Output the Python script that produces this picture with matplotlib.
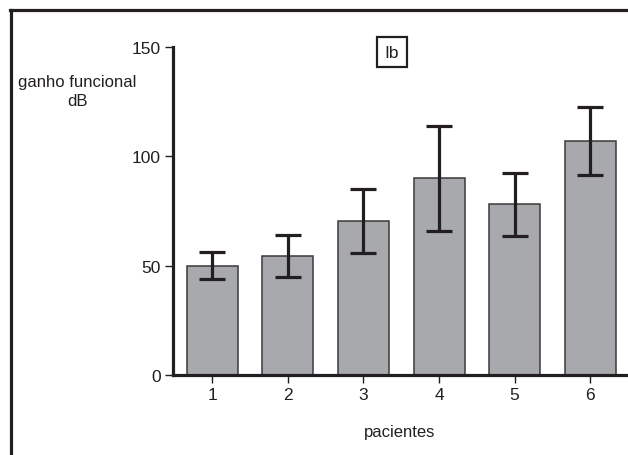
import numpy as np
import matplotlib
matplotlib.use("Agg")
import matplotlib.pyplot as plt
from matplotlib.lines import Line2D

pacientes = [1, 2, 3, 4, 5, 6]
ganho = [50, 54.5, 70.5, 90, 78, 107]
erro = [6.2, 9.5, 14.5, 24, 14.3, 15.5]
yticks = [0, 50, 100, 150]

plt.rcParams['font.family'] = ['Liberation Sans', 'DejaVu Sans']

W, H = 628, 456
fig = plt.figure(figsize=(W / 100, H / 100), dpi=100)
ax = fig.add_axes([173 / W, 1 - 376 / H, 1 - 173 / W, (376 - 48) / H])

ax.bar(pacientes, ganho, width=0.675, color='#a7a9ac', edgecolor='#3a3a3a', linewidth=1.1, zorder=2)
ax.errorbar(pacientes, ganho, yerr=erro, fmt='none', ecolor='#231f20', elinewidth=2.3,
            capsize=9.2, capthick=2.3, zorder=3)

ax.set_xlim(0.48, 6.5)
ax.set_ylim(0, 150)
ax.set_xticks(pacientes)
ax.set_yticks(yticks)
ax.tick_params(axis='both', direction='out', length=6, width=1, labelsize=12.5, colors='#231f20', pad=3)
for s in ['top', 'right']:
    ax.spines[s].set_visible(False)
for s in ['left', 'bottom']:
    ax.spines[s].set_linewidth(2.3)
    ax.spines[s].set_color('#231f20')

fig.text(77 / W, 1 - 82 / H, 'ganho funcional', ha='center', va='center', fontsize=12, color='#231f20')
fig.text(77 / W, 1 - 101 / H, 'dB', ha='center', va='center', fontsize=12, color='#231f20')
fig.text(400 / W, 1 - 433 / H, 'pacientes', ha='center', va='center', fontsize=12, color='#231f20')
fig.text(392 / W, 1 - 53 / H, 'Ib', ha='center', va='center', fontsize=12.5, color='#231f20',
         bbox=dict(boxstyle='square,pad=0.45', facecolor='white', edgecolor='#231f20', linewidth=1.6))

# outer frame (left and top visible)
fig.add_artist(Line2D([10.5 / W, 10.5 / W], [0, 1 - 10.5 / H], color='#231f20', linewidth=2.3))
fig.add_artist(Line2D([9.5 / W, 1], [1 - 10.5 / H, 1 - 10.5 / H], color='#231f20', linewidth=2.3))

fig.savefig('out.png', dpi=100)
